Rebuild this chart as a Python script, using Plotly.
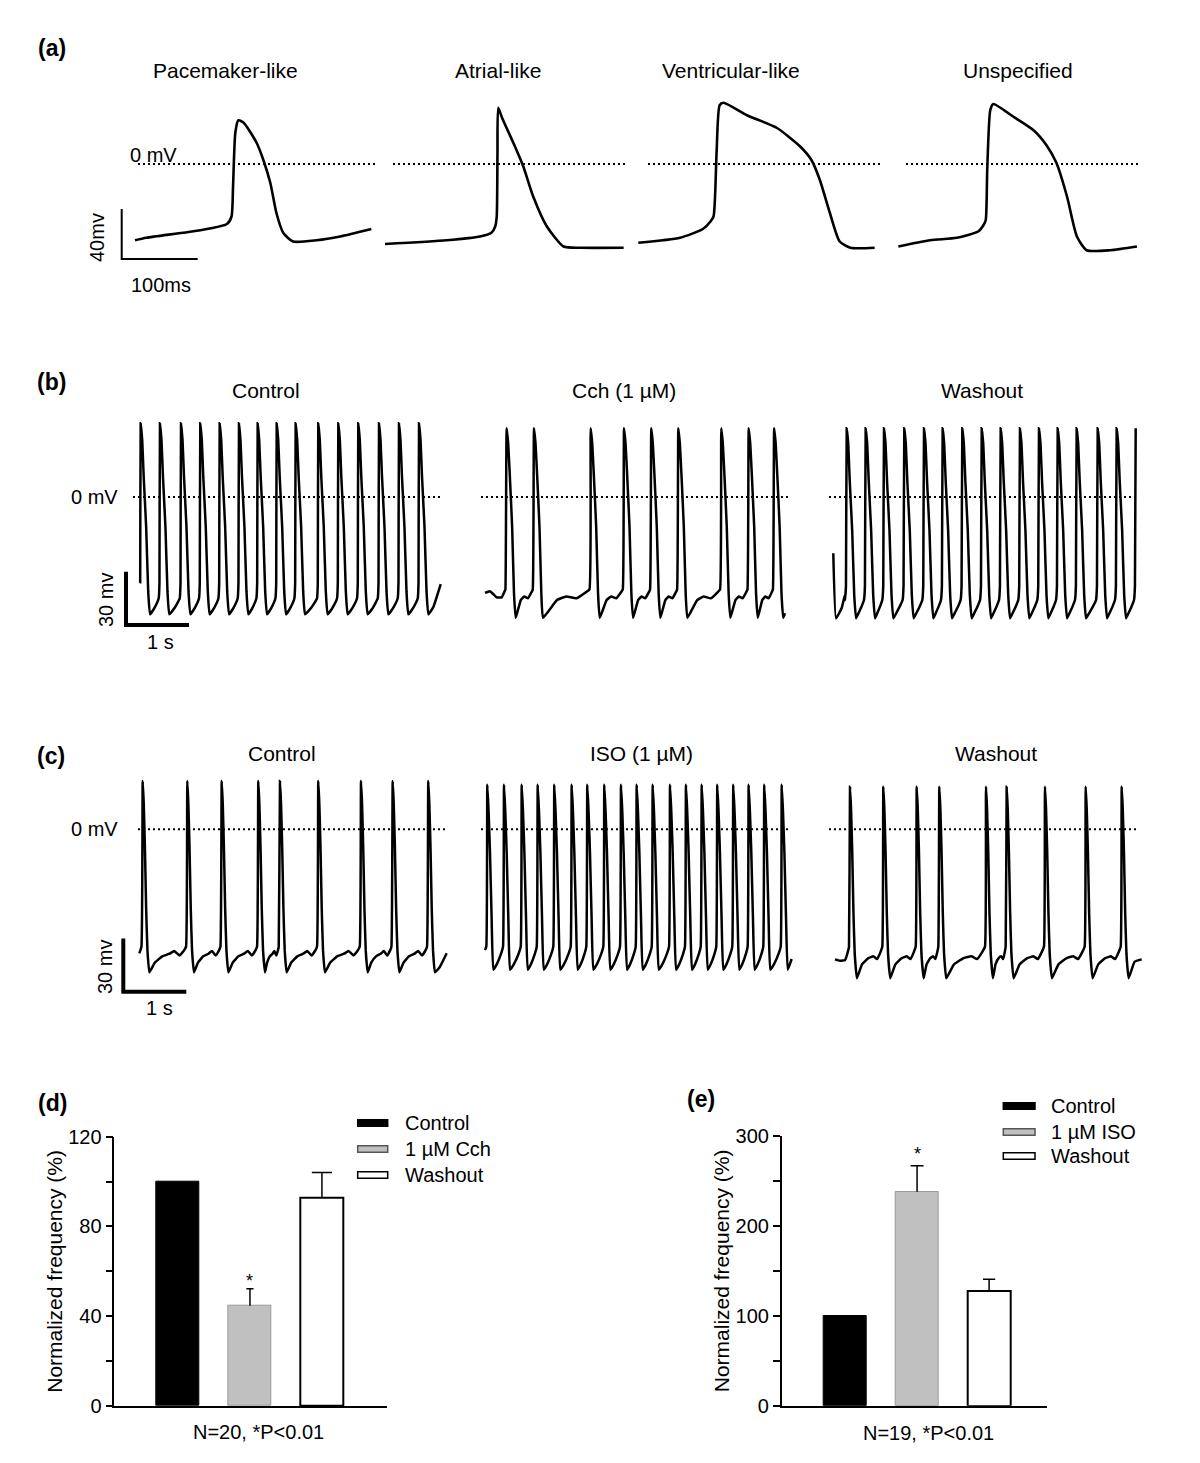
import plotly.graph_objects as go

W, H = 1200, 1463
FONT = "Liberation Sans, Arial, Helvetica, sans-serif"

# ---------------- DATA ----------------
# (a) representative single action potentials: time (ms), membrane potential (mV)
pace_t = [0, 15, 86, 121, 127, 129, 132, 136, 143, 160, 169, 178, 186, 195, 208, 239, 270, 311]
pace_v = [-61, -59, -53, -48, -42, -18, 25, 35, 33, 17, 3, -15, -39, -55, -62, -61, -58, -52]
atrial_t = [0, 81, 125, 140, 145, 147, 148, 149, 154, 171, 182, 195, 213, 235, 257, 314]
atrial_v = [-64, -61, -58, -55, -50, -42, 9, 45, 37, 14, -2, -26, -50, -66, -67, -67]
vent_t = [0, 55, 85, 95, 99, 103, 107, 112, 143, 182, 213, 228, 239, 252, 265, 279, 311]
vent_v = [-63, -59, -52, -46, -42, 9, 47, 49, 39, 29, 14, 3, -13, -39, -62, -67, -67]
unsp_t = [0, 42, 77, 105, 112, 115, 117, 121, 125, 151, 178, 195, 208, 222, 235, 248, 279, 314]
unsp_v = [-66, -61, -59, -54, -49, -45, -5, 43, 48, 38, 27, 15, 1, -26, -58, -69, -69, -66]

# (b) carbachol experiment: upstroke/peak times (s) and waveform points (s, mV)
b_ctrl_peaks = [0.011, 0.317, 0.651, 0.957, 1.265, 1.571, 1.868, 2.170, 2.471, 2.830,
                3.148, 3.465, 3.794, 4.111, 4.429]
b_ctrl_peak_mv = 41.5
b_ctrl_up = [(-0.02, -57), (-0.008, -48)]
b_ctrl_repol = [(0.024, 32), (0.048, 11), (0.087, -17), (0.119, -53), (0.148, -66)]
b_ctrl_dia = [(0.5, -62.5)]
b_ctrl_lead = [(0.0, -47)]
b_ctrl_tail = [(4.655, -62), (4.773, -49)]

b_cch_peaks = [0.344, 0.778, 1.678, 2.207, 2.640, 3.069, 3.751, 4.186, 4.590]
b_cch_peak_mv = 38.7
b_cch_up = [(-0.02, -52)]
b_cch_repol = [(0.024, 30), (0.05, 12), (0.087, -17), (0.116, -54), (0.143, -68)]
b_cch_dia = [(0.3, -58), (0.5, -56), (0.72, -57), (0.93, -53.5)]
b_cch_lead = [(0.0, -54), (0.079, -53), (0.185, -56.5), (0.265, -56.5), (0.318, -52.5)]
b_cch_tail = [(4.762, -65.4)]

b_wash_peaks = [0.213, 0.514, 0.805, 1.127, 1.440, 1.736, 2.048, 2.356, 2.657, 2.963,
                3.265, 3.562, 3.863, 4.197, 4.498, 4.800]
b_wash_peak_mv = 38.7
b_wash_up = [(-0.027, -58), (-0.012, -50)]
b_wash_repol = [(0.024, 30), (0.048, 9), (0.087, -19), (0.119, -55), (0.148, -68.3)]
b_wash_dia = [(0.35, -65), (0.75, -61)]
b_wash_lead = [(0.0, -31.7), (0.043, -68.3), (0.133, -62.5), (0.185, -55)]
b_wash_tail = []

# (c) isoproterenol experiment
c_ctrl_peaks = [0.054, 0.762, 1.308, 1.889, 2.233, 2.841, 3.519, 4.022, 4.587]
c_ctrl_peak_mv = 27.2
c_ctrl_up = [(-0.02, -66)]
c_ctrl_repol = [(0.016, 15), (0.035, -10), (0.055, -45), (0.075, -68), (0.106, -80.5)]
c_ctrl_dia = [(0.15, -75), (0.35, -71.5), (0.55, -70), (0.68, -68.5), (0.82, -71), (0.95, -68)]
c_ctrl_lead = [(0.0, -69.8)]
c_ctrl_tail = [(4.77, -77.5), (4.879, -69.8)]

c_iso_peaks = [0.037, 0.302, 0.583, 0.837, 1.100, 1.376, 1.624, 1.894, 2.159, 2.408,
               2.662, 2.937, 3.190, 3.440, 3.687, 3.941, 4.185, 4.433, 4.710]
c_iso_peak_mv = 25
c_iso_up = [(-0.016, -66)]
c_iso_repol = [(0.02, 10), (0.042, -13), (0.069, -51), (0.095, -79)]
c_iso_dia = [(0.35, -76), (0.8, -70)]
c_iso_lead = [(0.0, -68)]
c_iso_tail = [(4.868, -73)]

c_wash_peaks = [0.238, 0.767, 1.297, 1.656, 2.397, 2.725, 3.333, 3.979, 4.551]
c_wash_peak_mv = 24
c_wash_up = [(-0.016, -66)]
c_wash_repol = [(0.016, 12), (0.035, -12), (0.055, -47), (0.075, -70), (0.11, -83.8)]
c_wash_dia = [(0.2, -76), (0.45, -72.5), (0.65, -71.5), (0.8, -73), (0.93, -69)]
c_wash_lead = [(0.0, -73.2), (0.079, -74), (0.159, -73.6), (0.211, -68)]
c_wash_tail = [(4.756, -74.5), (4.868, -73.2)]

# scale bars
scale_a = (100, 40)   # ms, mV
scale_bc = (1, 30)    # s, mV

# (d), (e) bar charts
cond_d = ["Control", "1 µM Cch", "Washout"]
freq_d = [100, 44.7, 92.8]
sem_d = [0, 7.6, 11.2]
cond_e = ["Control", "1 µM ISO", "Washout"]
freq_e = [100, 238, 127.6]
sem_e = [0, 29, 13]

# ---------------- STYLE ----------------
bar_fill = ["black", "#c0c0c0", "white"]
bar_edge = ["black", "#9a9a9a", "black"]
bar_edge_w = [1, 1, 2]
cap_d = [0, 0.05, 0.14]
cap_e = [0, 0.09, 0.085]

fig = go.Figure()
axes = {}


def add_axes(n, xdom, ydom, x0px, sx, y0px, sy):
    sfx = "" if n == 1 else str(n)
    fig.update_layout(**{
        "xaxis" + sfx: dict(domain=[xdom[0] / W, xdom[1] / W],
                            range=[(xdom[0] - x0px) / sx, (xdom[1] - x0px) / sx],
                            visible=False, fixedrange=True, automargin=False, anchor="y" + sfx),
        "yaxis" + sfx: dict(domain=[1 - ydom[1] / H, 1 - ydom[0] / H],
                            range=[(y0px - ydom[1]) / sy, (y0px - ydom[0]) / sy],
                            visible=False, fixedrange=True, automargin=False, anchor="x" + sfx),
    })
    axes[n] = (x0px, sx, y0px, sy, "x" + sfx, "y" + sfx)


def px2data(n, xp, yp):
    x0, sx, y0, sy, _, _ = axes[n]
    return (xp - x0) / sx, (y0 - yp) / sy


def line(n, xs, ys, width=2.5, dash=None, smooth=0):
    _, _, _, _, xr, yr = axes[n]
    ln = dict(color="black", width=width, dash=dash)
    if smooth:
        ln.update(shape="spline", smoothing=smooth)
    fig.add_trace(go.Scatter(x=xs, y=ys, mode="lines", xaxis=xr, yaxis=yr, line=ln,
                             hoverinfo="skip", showlegend=False))


def zero_line(n, xl, xr_px):
    a, _ = px2data(n, xl, 0)
    b, _ = px2data(n, xr_px, 0)
    line(n, [a, b], [0, 0], width=2, dash="2px,3px")


def scale_bar(n, corner_px, dx, dy, width):
    cx, cy = px2data(n, *corner_px)
    line(n, [cx, cx, cx + dx], [cy + dy, cy, cy], width=width)


def build(peaks, peak_mv, up, repol, dia, lead, tail, end_at_peak=False):
    t = [p[0] for p in lead]
    v = [p[1] for p in lead]
    for i, pk in enumerate(peaks):
        for dt, mv in up:
            if t and pk + dt <= t[-1]:
                continue
            t.append(pk + dt); v.append(mv)
        t.append(pk); v.append(peak_mv)
        last = i == len(peaks) - 1
        if last and end_at_peak:
            break
        for dt, mv in repol:
            t.append(pk + dt); v.append(mv)
        if not last:
            a = pk + repol[-1][0]
            b = peaks[i + 1] + up[0][0]
            for f, mv in dia:
                t.append(a + f * (b - a)); v.append(mv)
    for tt, mv in tail:
        t.append(tt); v.append(mv)
    return t, v


# ---- (a) ----
A_Y0, A_SX, A_SY, A_YD = 164, 0.76, 1.25, (85, 268)
add_axes(1, (115, 385), A_YD, 135, A_SX, A_Y0, A_SY)
add_axes(2, (380, 636), A_YD, 385, A_SX, A_Y0, A_SY)
add_axes(3, (636, 892), A_YD, 638.3, A_SX, A_Y0, A_SY)
add_axes(4, (892, 1150), A_YD, 898.3, A_SX, A_Y0, A_SY)
for n, (t, v), (xl, xr_) in zip([1, 2, 3, 4],
                                [(pace_t, pace_v), (atrial_t, atrial_v), (vent_t, vent_v), (unsp_t, unsp_v)],
                                [(138, 378), (393, 628), (648, 883), (906, 1141)]):
    zero_line(n, xl, xr_)
    line(n, t, v, width=2.6, smooth=0.6)
scale_bar(1, (121.7, 259), scale_a[0], scale_a[1], 2)

# ---- (b) ----
B_Y0, S_X, S_Y, B_YD = 497, 63, 1.777, (405, 635)
TR_SMOOTH = 0.35
add_axes(5, (115, 450), B_YD, 140, S_X, B_Y0, S_Y)
add_axes(6, (470, 797), B_YD, 485, S_X, B_Y0, S_Y)
add_axes(7, (820, 1146), B_YD, 833.3, S_X, B_Y0, S_Y)
zero_line(5, 133, 442); zero_line(6, 481, 790); zero_line(7, 829, 1137)
line(5, *build(b_ctrl_peaks, b_ctrl_peak_mv, b_ctrl_up, b_ctrl_repol, b_ctrl_dia, b_ctrl_lead, b_ctrl_tail),
     smooth=TR_SMOOTH)
line(6, *build(b_cch_peaks, b_cch_peak_mv, b_cch_up, b_cch_repol, b_cch_dia, b_cch_lead, b_cch_tail),
     smooth=TR_SMOOTH)
line(7, *build(b_wash_peaks, b_wash_peak_mv, b_wash_up, b_wash_repol, b_wash_dia, b_wash_lead,
               b_wash_tail, end_at_peak=True), smooth=TR_SMOOTH)
scale_bar(5, (126, 625), scale_bc[0], scale_bc[1], 4)

# ---- (c) ----
C_Y0, C_YD = 829.3, (765, 1000)
add_axes(8, (115, 452), C_YD, 139.3, S_X, C_Y0, S_Y)
add_axes(9, (470, 798), C_YD, 485, S_X, C_Y0, S_Y)
add_axes(10, (820, 1150), C_YD, 835, S_X, C_Y0, S_Y)
zero_line(8, 138, 447); zero_line(9, 481, 790); zero_line(10, 829, 1138)
line(8, *build(c_ctrl_peaks, c_ctrl_peak_mv, c_ctrl_up, c_ctrl_repol, c_ctrl_dia, c_ctrl_lead, c_ctrl_tail),
     smooth=TR_SMOOTH)
line(9, *build(c_iso_peaks, c_iso_peak_mv, c_iso_up, c_iso_repol, c_iso_dia, c_iso_lead, c_iso_tail),
     smooth=TR_SMOOTH)
line(10, *build(c_wash_peaks, c_wash_peak_mv, c_wash_up, c_wash_repol, c_wash_dia, c_wash_lead, c_wash_tail),
     smooth=TR_SMOOTH)
scale_bar(8, (123.3, 991.7), scale_bc[0], scale_bc[1], 4)


# ---- (d), (e) bar charts ----
def bar_axes(n, xdom, ydom, xrange, yrange, dtick, title):
    sfx = str(n)
    vals = list(range(0, yrange[1] + 1, dtick))
    txt = [str(v) if i % 2 == 0 else "" for i, v in enumerate(vals)]
    fig.update_layout(**{
        "xaxis" + sfx: dict(domain=[xdom[0] / W, xdom[1] / W], range=xrange, showline=True,
                            linecolor="black", linewidth=1.5, showticklabels=False, ticks="",
                            showgrid=False, zeroline=False, fixedrange=True, automargin=False,
                            anchor="y" + sfx),
        "yaxis" + sfx: dict(domain=[1 - ydom[1] / H, 1 - ydom[0] / H], range=yrange, showline=True,
                            linecolor="black", linewidth=1.5, ticks="outside", ticklen=7,
                            tickwidth=1.5, tickcolor="black", tickvals=vals, ticktext=txt,
                            tickfont=dict(size=20, color="black", family=FONT),
                            title=dict(text=title, font=dict(size=21, color="black", family=FONT),
                                       standoff=0),
                            showgrid=False, zeroline=False, fixedrange=True, automargin=False,
                            anchor="x" + sfx),
    })


def bars(n, cats, vals, errs, caps):
    sfx = str(n)
    for i, (c, val, e) in enumerate(zip(cats, vals, errs)):
        fig.add_trace(go.Bar(x=[i], y=[val], width=0.59, name=c, xaxis="x" + sfx, yaxis="y" + sfx,
                             marker=dict(color=bar_fill[i], line=dict(color=bar_edge[i], width=bar_edge_w[i])),
                             showlegend=False, hoverinfo="skip"))
        if e > 0:
            fig.add_trace(go.Scatter(x=[i, i, None, i - caps[i], i + caps[i]],
                                     y=[val, val + e, None, val + e, val + e],
                                     mode="lines", line=dict(color="black", width=1.5),
                                     xaxis="x" + sfx, yaxis="y" + sfx, showlegend=False, hoverinfo="skip"))


bar_axes(11, (114.3, 386.7), (1136.7, 1406), [-0.885, 2.9], [0, 120], 20, "Normalized frequency (%)")
bar_axes(12, (781.7, 1046.7), (1136, 1405.7), [-0.88, 2.8], [0, 300], 50, "Normalized frequency (%)")
bars(11, cond_d, freq_d, sem_d, cap_d)
bars(12, cond_e, freq_e, sem_e, cap_e)

# ---------------- TEXT ----------------
ann = []


def text(s, x, y, size=20, bold=False, xanchor="center", angle=0):
    ann.append(dict(text=f"<b>{s}</b>" if bold else s, x=x / W, y=1 - y / H, xref="paper", yref="paper",
                    xanchor=xanchor, yanchor="middle", showarrow=False, textangle=angle,
                    font=dict(size=size, color="black", family=FONT)))


for s, x, y in [("(a)", 52, 48), ("(b)", 51, 382), ("(c)", 51, 756), ("(d)", 52, 1103), ("(e)", 701, 1099)]:
    text(s, x, y, size=23, bold=True)
for s, x, y in [("Pacemaker-like", 225, 70), ("Atrial-like", 498, 70), ("Ventricular-like", 731, 70),
                ("Unspecified", 1018, 70), ("Control", 266, 391), ("Cch (1 µM)", 624, 391),
                ("Washout", 982, 391), ("Control", 282, 753), ("ISO (1 µM)", 641, 753),
                ("Washout", 996, 753)]:
    text(s, x, y, size=21)
text("0 mV", 153, 155)
text("0 mV", 94, 497)
text("0 mV", 94, 829)
text("40mv", 97, 237, angle=-90)
text("100ms", 161, 285)
text("30 mv", 106, 600, angle=-90)
text("1 s", 160, 642)
text("30 mv", 105, 967, angle=-90)
text("1 s", 159, 1008)
text("N=20, *P&lt;0.01", 258, 1432)
text("N=19, *P&lt;0.01", 928, 1433)

# significance stars
for n, vals, errs, ys in [(11, freq_d, sem_d, -4), (12, freq_e, sem_e, 0)]:
    ann.append(dict(text="*", x=1, y=vals[1] + errs[1], xref=f"x{n}", yref=f"y{n}", yanchor="bottom",
                    yshift=ys, showarrow=False, font=dict(size=18, color="black", family=FONT)))

# legends (drawn as keyed swatches)
shapes = []
for (x0, x1, xt, ys, labels) in [(357.7, 387.7, 403, [1123, 1149, 1175], cond_d),
                                 (1003.3, 1035, 1049, [1106, 1132, 1156], cond_e)]:
    for i, (yc, lab) in enumerate(zip(ys, labels)):
        shapes.append(dict(type="rect", xref="paper", yref="paper", x0=x0 / W, x1=x1 / W,
                           y0=1 - (yc + 3.3) / H, y1=1 - (yc - 3.3) / H, fillcolor=bar_fill[i],
                           line=dict(color="black" if i != 1 else "#555555", width=1.5)))
        text(lab, xt, yc, xanchor="left")

fig.update_layout(template="none", width=W, height=H, autosize=False,
                  margin=dict(l=0, r=0, t=0, b=0, pad=0, autoexpand=False),
                  paper_bgcolor="white", plot_bgcolor="rgba(0,0,0,0)", showlegend=False,
                  annotations=ann, shapes=shapes, font=dict(family=FONT, color="black"), bargap=0)
fig.write_html("out.html", config={"displayModeBar": False, "responsive": False},
               post_script="document.body.style.margin='0';document.body.style.overflow='hidden';")
